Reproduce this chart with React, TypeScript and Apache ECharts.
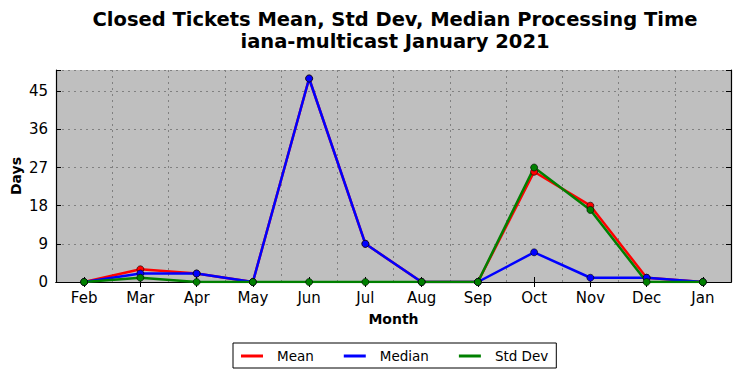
import React, { useEffect, useRef } from "react";
import * as echarts from "echarts";

const months = ["Feb", "Mar", "Apr", "May", "Jun", "Jul", "Aug", "Sep", "Oct", "Nov", "Dec", "Jan"];
const meanValues = [0, 3, 2, 0, 48, 9, 0, 0, 26, 18, 1, 0];
const medianValues = [0, 2, 2, 0, 48, 9, 0, 0, 7, 1, 1, 0];
const stdDevValues = [0, 1, 0, 0, 0, 0, 0, 0, 27, 17, 0, 0];
const yTicks = [0, 9, 18, 27, 36, 45];
const seriesNames = ["Mean", "Median", "Std Dev"];
const seriesColors = ["#ff0000", "#0000ff", "#008000"];

const FONT = "DejaVu Sans";

function makeSeries(name: string, data: number[], color: string) {
  return {
    name,
    type: "line",
    data,
    xAxisIndex: 0,
    yAxisIndex: 0,
    symbol: "circle",
    symbolSize: 7,
    showSymbol: true,
    lineStyle: { color, width: 2.5 },
    itemStyle: { color, borderColor: "#000", borderWidth: 0.6 },
    emphasis: { disabled: true },
  };
}

export default function App() {
  const ref = useRef<HTMLDivElement>(null);
  useEffect(() => {
    if (!ref.current) return;
    const chart = echarts.init(ref.current, undefined, { renderer: "svg" });
    chart.setOption({
      animation: false,
      backgroundColor: "#ffffff",
      title: {
        text: "Closed Tickets Mean, Std Dev, Median Processing Time\niana-multicast January 2021",
        left: 390,
        textAlign: "center",
        top: 3,
        textStyle: { fontFamily: FONT, fontWeight: "bold", fontSize: 19.5, lineHeight: 22, color: "#000" },
      },
      legend: {
        top: 343,
        left: 233,
        itemGap: 30,
        itemWidth: 22,
        itemHeight: 3,
        padding: [6, 8, 5, 8],
        borderColor: "#000",
        borderWidth: 1,
        icon: "rect",
        textStyle: { fontFamily: FONT, fontSize: 13.5, color: "#000", padding: [0, 0, 0, 9] },
        itemStyle: { borderWidth: 0 },
        data: seriesNames.map((n, i) => ({ name: n, itemStyle: { color: seriesColors[i], borderWidth: 0 } })),
      },
      grid: {
        left: 56,
        right: 10,
        top: 70,
        bottom: 96,
        outerBoundsMode: "none",
        containLabel: false,
        backgroundColor: "#bfbfbf",
        show: true,
        borderWidth: 0,
      },
      xAxis: [
        {
          type: "category",
          data: months,
          boundaryGap: true,
          name: "Month",
          nameLocation: "middle",
          nameGap: 30,
          nameTextStyle: { fontFamily: FONT, fontWeight: "bold", fontSize: 14, color: "#000" },
          axisLine: { show: true, lineStyle: { color: "#000", width: 1.2 } },
          axisTick: { show: true, inside: true, alignWithLabel: true, length: 5, lineStyle: { color: "#000" } },
          axisLabel: { fontFamily: FONT, fontSize: 15, color: "#000", margin: 8, interval: 0 },
          splitLine: { show: true, interval: 0, lineStyle: { color: "#808080", type: [2, 4], width: 1 } },
        },
        {
          type: "category",
          data: months,
          position: "top",
          boundaryGap: true,
          axisLine: { show: true, lineStyle: { color: "#000", width: 1.2 } },
          axisTick: { show: true, inside: true, alignWithLabel: true, length: 5, lineStyle: { color: "#000" } },
          axisLabel: { show: false },
          splitLine: { show: false },
        },
      ],
      yAxis: [
        {
          type: "value",
          min: 0,
          max: 50,
          interval: 9,
          name: "Days",
          nameLocation: "middle",
          nameGap: 33,
          nameMoveOverlap: false,
          nameRotate: 90,
          nameTextStyle: { fontFamily: FONT, fontWeight: "bold", fontSize: 14, color: "#000" },
          axisLine: { show: true, lineStyle: { color: "#000", width: 1.2 } },
          axisTick: { show: true, inside: true, length: 5, lineStyle: { color: "#000" } },
          axisLabel: {
            fontFamily: FONT,
            fontSize: 15,
            color: "#000",
            margin: 8,
            formatter: (v: number) => (yTicks.includes(v) ? String(v) : ""),
          },
          splitLine: { show: true, lineStyle: { color: "#808080", type: [2, 4], width: 1 } },
        },
        {
          type: "value",
          min: 0,
          max: 50,
          interval: 9,
          position: "right",
          axisLine: { show: true, lineStyle: { color: "#000", width: 1.2 } },
          axisTick: { show: true, inside: true, length: 5, lineStyle: { color: "#000" } },
          axisLabel: { show: false },
          splitLine: { show: false },
        },
      ],
      series: seriesNames.map((n, i) =>
        makeSeries(n, [meanValues, medianValues, stdDevValues][i], seriesColors[i])
      ),
    });
    return () => chart.dispose();
  }, []);
  return <div ref={ref} style={{ width: 741, height: 378, position: "absolute", left: 0, top: 0 }} />;
}
